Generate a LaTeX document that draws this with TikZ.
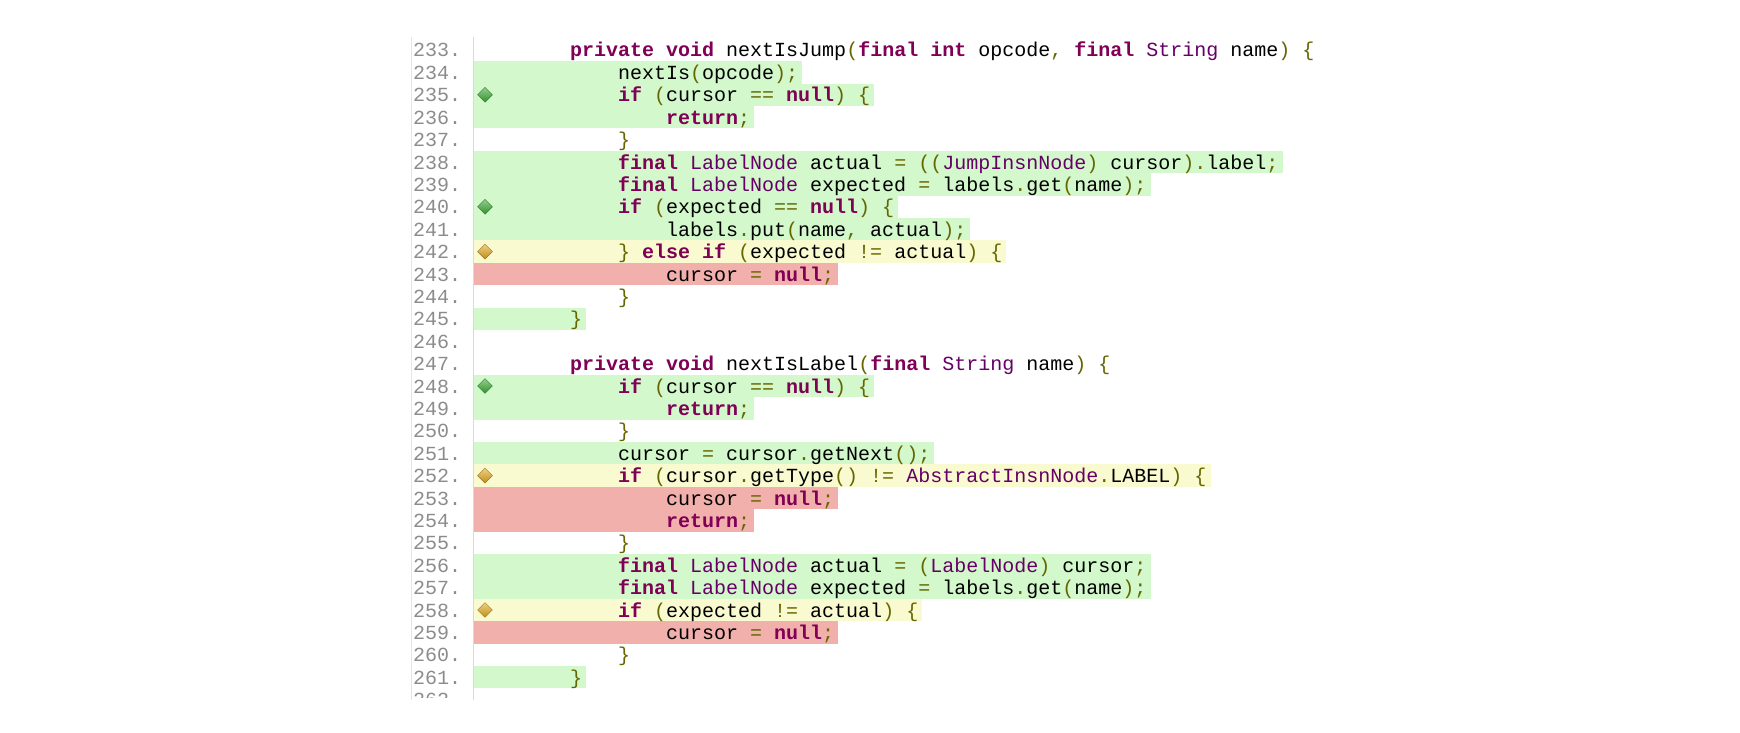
\documentclass[tikz,border=0pt]{standalone}
\usepackage{fontspec}
\setmonofont{Liberation Mono}
\usetikzlibrary{backgrounds,calc,shapes.geometric}
\definecolor{kwc}{HTML}{7F0055}
\definecolor{tyc}{HTML}{660066}
\definecolor{pnc}{HTML}{666600}
\definecolor{fc}{HTML}{D2F8CC}
\definecolor{pc}{HTML}{FAFAD0}
\definecolor{nc}{HTML}{F2B0AC}
\definecolor{numc}{HTML}{8C8C8C}
\definecolor{gmark}{HTML}{3AA835}
\definecolor{ymark}{HTML}{E0A820}
\newcommand\kw[1]{{\color{kwc}\bfseries #1}}
\newcommand\ty[1]{{\color{tyc}#1}}
\newcommand\pn[1]{{\color{pnc}#1}}
\newcommand\codeline[4]{%
  \pgfmathsetmacro\yy{-(50+22.4*(#1-233))}%
  \node[code, anchor=base west] (l#1) at ({570+48*(#2-1)}, \yy-7) {#4};%
  \node[num, anchor=base west] (n#1) at (413,\yy-7) {#1.};%
  \coordinate (b#1) at (0,\yy-11.2);%
  \begin{pgfonlayer}{background}%
  \fill[#3] (474,\yy+11.2) rectangle ($(l#1.east |- b#1)+(4,0)$);%
  \end{pgfonlayer}}
\newcommand\covmark[2]{%
  \pgfmathsetmacro\yy{-(50+22.4*(#1-233))}%
  \node[diamond, minimum size=15pt, inner sep=0, draw=#2!70!black, top color=#2!55!white, bottom color=#2!85!black] (d#1) at (485,\yy) {};}
\begin{document}
\begin{tikzpicture}[x=1pt,y=1pt,
  code/.style={inner sep=0, font=\ttfamily\fontsize{20}{22}\selectfont},
  num/.style={inner sep=0, text=numc, font=\ttfamily\fontsize{20}{22}\selectfont}]
\useasboundingbox (0,0) rectangle (1740,-733);
\draw[gray!30, line width=1pt] (473,-37) -- (473,-700);
\draw[gray!20, line width=0.6pt] (411,-37) -- (411,-700);
\begin{scope}
\clip (0,0) rectangle (1740,-697);
\codeline{233}{1}{white}{\kw{private} \kw{void} nextIsJump\pn{(}\kw{final} \kw{int} opcode\pn{,} \kw{final} \ty{String} name\pn{) \{}}
\codeline{234}{2}{fc}{nextIs\pn{(}opcode\pn{);}}
\codeline{235}{2}{fc}{\kw{if} \pn{(}cursor \pn{==} \kw{null}\pn{) \{}}
\codeline{236}{3}{fc}{\kw{return}\pn{;}}
\codeline{237}{2}{white}{\pn{\}}}
\codeline{238}{2}{fc}{\kw{final} \ty{LabelNode} actual \pn{= ((}\ty{JumpInsnNode}\pn{)} cursor\pn{).}label\pn{;}}
\codeline{239}{2}{fc}{\kw{final} \ty{LabelNode} expected \pn{=} labels\pn{.}get\pn{(}name\pn{);}}
\codeline{240}{2}{fc}{\kw{if} \pn{(}expected \pn{==} \kw{null}\pn{) \{}}
\codeline{241}{3}{fc}{labels\pn{.}put\pn{(}name\pn{,} actual\pn{);}}
\codeline{242}{2}{pc}{\pn{\}} \kw{else} \kw{if} \pn{(}expected \pn{!=} actual\pn{) \{}}
\codeline{243}{3}{nc}{cursor \pn{=} \kw{null}\pn{;}}
\codeline{244}{2}{white}{\pn{\}}}
\codeline{245}{1}{fc}{\pn{\}}}
\codeline{246}{1}{white}{}
\codeline{247}{1}{white}{\kw{private} \kw{void} nextIsLabel\pn{(}\kw{final} \ty{String} name\pn{) \{}}
\codeline{248}{2}{fc}{\kw{if} \pn{(}cursor \pn{==} \kw{null}\pn{) \{}}
\codeline{249}{3}{fc}{\kw{return}\pn{;}}
\codeline{250}{2}{white}{\pn{\}}}
\codeline{251}{2}{fc}{cursor \pn{=} cursor\pn{.}getNext\pn{();}}
\codeline{252}{2}{pc}{\kw{if} \pn{(}cursor\pn{.}getType\pn{() !=} \ty{AbstractInsnNode}\pn{.}LABEL\pn{) \{}}
\codeline{253}{3}{nc}{cursor \pn{=} \kw{null}\pn{;}}
\codeline{254}{3}{nc}{\kw{return}\pn{;}}
\codeline{255}{2}{white}{\pn{\}}}
\codeline{256}{2}{fc}{\kw{final} \ty{LabelNode} actual \pn{= (}\ty{LabelNode}\pn{)} cursor\pn{;}}
\codeline{257}{2}{fc}{\kw{final} \ty{LabelNode} expected \pn{=} labels\pn{.}get\pn{(}name\pn{);}}
\codeline{258}{2}{pc}{\kw{if} \pn{(}expected \pn{!=} actual\pn{) \{}}
\codeline{259}{3}{nc}{cursor \pn{=} \kw{null}\pn{;}}
\codeline{260}{2}{white}{\pn{\}}}
\codeline{261}{1}{fc}{\pn{\}}}
\node[num, anchor=base west] (n262) at (413,-699.6-7) {262.};
\end{scope}
\covmark{235}{gmark}
\covmark{240}{gmark}
\covmark{248}{gmark}
\covmark{242}{ymark}
\covmark{252}{ymark}
\covmark{258}{ymark}
\end{tikzpicture}
\end{document}
